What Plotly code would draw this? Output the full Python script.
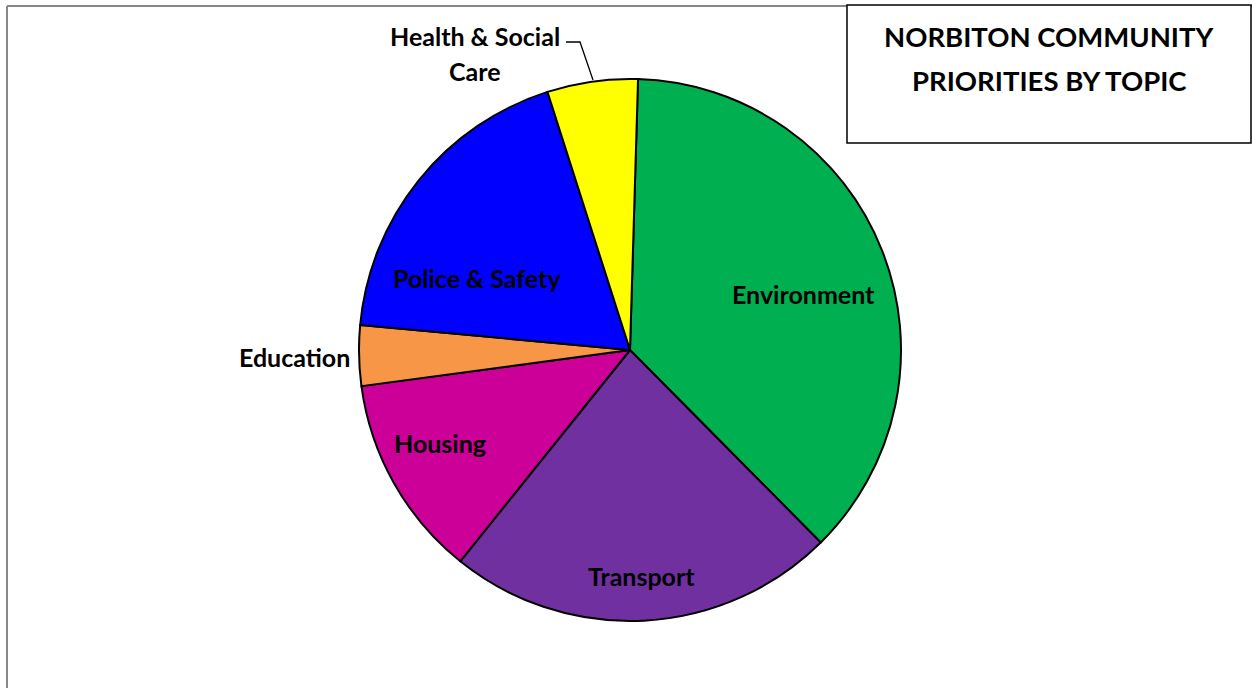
import plotly.graph_objects as go

W, H = 1252, 688

# ---- data ----
topics = ["Environment", "Transport", "Housing", "Education", "Police & Safety", "Health & Social Care"]
shares = [37.1, 23.2, 12.1, 3.6, 18.6, 5.4]
colors = ["#00B050", "#7030A0", "#CC0099", "#F79646", "#0000FF", "#FFFF00"]
title_lines = ["NORBITON COMMUNITY", "PRIORITIES BY TOPIC"]
label_lines = [["Environment"], ["Transport"], ["Housing"], ["Education"],
               ["Police & Safety"], ["Health & Social", "Care"]]


def px(x):
    return x / W


def py(y):
    return 1 - y / H


# pie geometry (pixels)
cx, cy, r = 630, 350, 271

fig = go.Figure()
fig.add_trace(go.Pie(
    labels=topics,
    values=shares,
    sort=False,
    direction="clockwise",
    rotation=1.7,
    marker=dict(colors=colors, line=dict(color="black", width=2)),
    textinfo="none",
    hoverinfo="label+percent",
    showlegend=False,
    domain=dict(x=[px(cx - r), px(cx + r)], y=[py(cy + r), py(cy - r)]),
))

FONT = "Lato"
lab_font = dict(family=FONT, size=25, color="black", weight="bold")

# (x centre, y of first line, line spacing) in pixels
label_pos = [(803, 294.5, 0), (641, 575.5, 0), (440, 442.5, 0), (294, 356.5, 0),
             (477, 277.5, 0), (475, 35.5, 35)]
annotations = []
for lines, (x, y, dy) in zip(label_lines, label_pos):
    for i, t in enumerate(lines):
        annotations.append(dict(
            x=px(x), y=py(y + i * dy), xref="paper", yref="paper", text=t, showarrow=False,
            xanchor="center", yanchor="middle", align="center", font=lab_font,
        ))

for i, t in enumerate(title_lines):
    annotations.append(dict(
        x=px(1049), y=py(37 + i * 44), xref="paper", yref="paper",
        text=t, showarrow=False, xanchor="center", yanchor="middle",
        align="center", font=dict(family=FONT, size=27.5, color="black", weight="bold"),
    ))

shapes = [
    # outer chart frame
    dict(type="line", xref="paper", yref="paper", x0=px(7), y0=py(6), x1=px(7), y1=py(700),
         line=dict(color="#888888", width=2)),
    dict(type="line", xref="paper", yref="paper", x0=px(7), y0=py(6), x1=px(1260), y1=py(6),
         line=dict(color="#888888", width=2)),
    # title box
    dict(type="rect", xref="paper", yref="paper", x0=px(847), y0=py(5), x1=px(1251), y1=py(143),
         line=dict(color="black", width=1.5), fillcolor="white"),
    # leader line for Health & Social Care
    dict(type="path", xref="paper", yref="paper",
         path=f"M {px(566)} {py(42)} L {px(580)} {py(42)} L {px(593)} {py(80)}",
         line=dict(color="black", width=1.3)),
]

fig.update_layout(
    width=W, height=H,
    margin=dict(l=0, r=0, t=0, b=0),
    paper_bgcolor="white", plot_bgcolor="white",
    annotations=annotations, shapes=shapes,
)

fig.write_html("out.html")
